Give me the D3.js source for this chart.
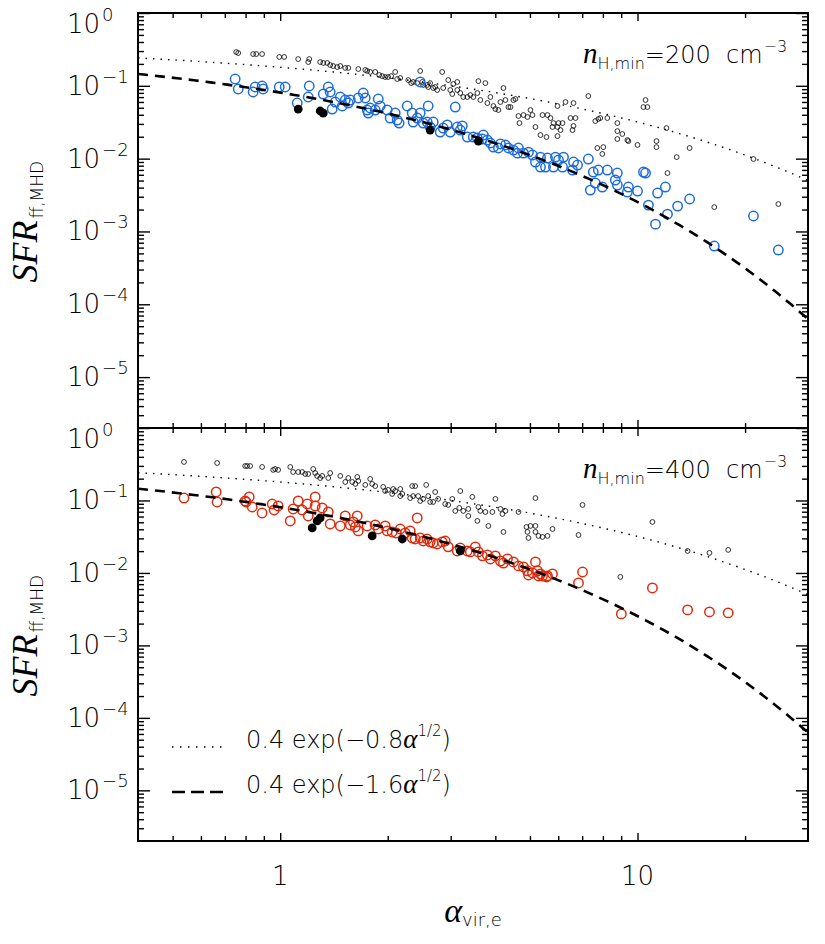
<!DOCTYPE html>
<html>
<head>
<meta charset="utf-8">
<script src="https://cdn.jsdelivr.net/npm/d3@7"></script>
<style>
  body { margin: 0; background: #fff; }
  text { font-family: "DejaVu Sans", sans-serif; font-weight: 200; fill: #000; }
  .it { font-family: "Liberation Serif", serif; font-style: italic; font-weight: normal; }
</style>
</head>
<body>
<svg id="chart" width="825" height="944"></svg>
<script>
// values: [alpha_vir,e , SFR_ff,MHD]
// n_H,min = 200 cm^-3 panel
const clumps200 = [
  [0.753,0.291],[0.763,0.282],[0.840,0.273],[0.857,0.273],[0.890,0.273],[0.994,0.249],[1.026,0.249],
  [1.123,0.233],[1.206,0.233],[1.198,0.212],[1.294,0.212],[1.320,0.206],[1.354,0.206],[1.380,0.193],
  [1.407,0.187],[1.444,0.181],[1.473,0.187],[1.521,0.176],[1.551,0.176],[1.654,0.170],[1.730,0.165],
  [1.752,0.160],[1.786,0.155],[1.845,0.155],[1.893,0.141],[1.930,0.136],[1.967,0.132],[2.005,0.132],
  [2.044,0.136],[2.098,0.155],[2.125,0.124],[2.168,0.128],[2.282,0.120],[2.326,0.109],[2.356,0.113],
  [2.418,0.109],[2.465,0.160],[2.497,0.113],[2.513,0.1026],[2.578,0.1026],[2.595,0.0963],[2.628,0.109],
  [2.680,0.0933],[2.715,0.0963],[2.750,0.0876],[2.840,0.155],[2.859,0.0933],[2.953,0.120],[2.992,0.0876],
  [3.031,0.0771],[3.050,0.106],[3.130,0.113],[3.130,0.0876],[3.192,0.0796],[3.254,0.0702],[3.339,0.0702],
  [3.405,0.0747],[3.471,0.0702],[3.563,0.0796],[3.586,0.116],[3.632,0.0638],[3.752,0.109],[3.800,0.0580],
  [3.875,0.0702],[3.951,0.0528],[4.002,0.0480],[4.081,0.0465],[4.134,0.0599],[4.215,0.0933],[4.270,0.0638],
  [4.353,0.0511],[4.410,0.0511],[4.496,0.0638],[4.554,0.0659],[4.643,0.0385],[4.673,0.0308],[4.796,0.0397],
  [4.921,0.0373],[5.017,0.0465],[5.082,0.0397],[5.181,0.0272],[5.351,0.0211],[5.421,0.0397],[5.562,0.0198],
  [5.598,0.0397],[5.708,0.0361],[5.782,0.0272],[5.819,0.0308],[5.971,0.0272],[6.010,0.0308],[6.167,0.0308],
  [5.971,0.0204],[6.088,0.0247],[6.287,0.0599],[6.621,0.0580],[5.971,0.0528],[6.494,0.0361],[6.706,0.0361],
  [6.621,0.0281],[6.578,0.0247],[7.284,0.0724],[7.619,0.0328],[7.768,0.0350],[7.868,0.0361],[8.232,0.0361],
  [7.718,0.0140],[8.022,0.0144],[7.971,0.0116],[8.781,0.0308],[8.781,0.0239],[8.781,0.0186],[9.068,0.0218],
  [9.367,0.0180],[9.428,0.0174],[10.0,0.0154],[10.53,0.0638],[10.39,0.0511],[10.66,0.0511],[11.30,0.0174],
  [11.30,0.0144],[12.05,0.0263],[12.13,0.00634],[12.87,0.0105],[13.99,0.0140],[16.40,0.00216],
  [21.11,0.00988],[24.78,0.00238]
];
const open200 = [
  [0.748,0.124],[0.763,0.0904],[0.840,0.0822],[0.851,0.0963],[0.890,0.0994],[0.896,0.0904],[0.994,0.0963],
  [1.033,0.0963],[1.206,0.0994],[1.198,0.0702],[1.116,0.0580],[1.320,0.0771],[1.363,0.0963],[1.380,0.0822],
  [1.398,0.0480],[1.426,0.0599],[1.473,0.0702],[1.492,0.0528],[1.521,0.0638],[1.551,0.0580],[1.571,0.0638],
  [1.654,0.0680],[1.708,0.0796],[1.730,0.0680],[1.752,0.0465],[1.764,0.0423],[1.786,0.0496],[1.845,0.0465],
  [1.881,0.0659],[1.905,0.0528],[1.993,0.0465],[2.031,0.0361],[2.098,0.0423],[2.125,0.0339],[2.152,0.0308],
  [2.267,0.0528],[2.341,0.0423],[2.356,0.0318],[2.418,0.0361],[2.465,0.0423],[2.465,0.113],[2.513,0.0308],
  [2.578,0.0318],[2.595,0.0528],[2.628,0.0272],[2.680,0.0318],[2.804,0.0232],[2.859,0.0263],[2.934,0.0290],
  [2.992,0.0232],[3.090,0.0511],[3.130,0.0272],[3.192,0.0247],[3.233,0.0281],[3.339,0.0198],[3.471,0.0198],
  [3.563,0.0192],[3.680,0.0186],[3.703,0.0211],[3.800,0.0180],[3.875,0.0164],[3.951,0.0144],[4.081,0.0140],
  [4.134,0.0159],[4.270,0.0154],[4.353,0.0140],[4.496,0.0131],[4.614,0.0119],[4.643,0.0140],[4.796,0.0119],
  [4.953,0.0123],[5.082,0.0112],[5.181,0.00898],[5.351,0.00767],[5.526,0.00767],[5.598,0.0102],[5.351,0.0105],
  [5.895,0.0105],[6.010,0.00957],[6.207,0.0105],[5.819,0.00767],[6.167,0.00767],[6.621,0.00898],[6.578,0.00697],
  [6.794,0.00817],[7.284,0.00988],[7.522,0.00654],[7.768,0.00697],[8.232,0.00697],[7.619,0.00462],[7.378,0.00370],
  [7.971,0.00407],[8.781,0.00634],[8.668,0.00508],[8.781,0.00434],[9.428,0.00407],[9.367,0.00348],[10.0,0.00359],
  [10.39,0.00654],[10.53,0.00634],[11.38,0.00337],[11.97,0.00407],[10.73,0.00230],[11.23,0.00126],[12.13,0.00173],
  [12.95,0.00223],[13.99,0.00279],[16.40,0.000630],[21.11,0.00163],[24.78,0.000556]
];
const filled200 = [[1.123,0.0480],[1.294,0.0451],[1.320,0.0423],[2.628,0.0247],[3.586,0.0174]];

// n_H,min = 400 cm^-3 panel
const clumps400 = [
  [0.538,0.340],[0.666,0.329],[0.798,0.299],[0.808,0.299],[0.824,0.299],[0.890,0.290],[0.956,0.264],
  [0.968,0.272],[0.987,0.264],[1.067,0.290],[1.087,0.247],[1.123,0.247],[1.152,0.247],[1.175,0.232],
  [1.198,0.232],[1.237,0.272],[1.253,0.239],[1.269,0.218],[1.294,0.204],[1.311,0.218],[1.363,0.204],
  [1.380,0.239],[1.473,0.218],[1.521,0.180],[1.551,0.204],[1.591,0.180],[1.623,0.169],[1.643,0.211],
  [1.654,0.186],[1.730,0.164],[1.786,0.198],[1.809,0.169],[1.845,0.158],[1.942,0.154],[1.967,0.135],
  [2.005,0.140],[2.071,0.144],[2.098,0.135],[2.058,0.123],[2.168,0.144],[2.196,0.123],[2.168,0.115],
  [2.341,0.158],[2.387,0.158],[2.311,0.108],[2.356,0.115],[2.433,0.115],[2.465,0.0984],[2.513,0.105],
  [2.562,0.164],[2.595,0.115],[2.628,0.0953],[2.680,0.0953],[2.715,0.131],[2.768,0.105],[2.896,0.0894],
  [2.953,0.0867],[3.031,0.105],[3.090,0.0717],[3.171,0.0788],[3.192,0.135],[3.254,0.0717],[3.361,0.0764],
  [3.361,0.0611],[3.449,0.112],[3.563,0.0522],[3.586,0.0813],[3.632,0.0717],[3.752,0.0694],[3.825,0.0445],
  [3.925,0.0694],[4.002,0.105],[4.134,0.0764],[4.188,0.0651],[4.215,0.0368],[4.270,0.0717],[4.643,0.0694],
  [4.889,0.0431],[4.921,0.0368],[5.017,0.0445],[4.953,0.0304],[5.181,0.0445],[5.181,0.108],[5.181,0.0368],
  [5.283,0.0324],[5.421,0.0314],[5.598,0.0324],[5.782,0.0404],[6.837,0.0334],[7.017,0.0867],[8.952,0.00881],
  [11.01,0.0505],[13.81,0.0201],[15.90,0.0189],[17.94,0.0208]
];
const open400 = [
  [0.538,0.108],[0.662,0.131],[0.666,0.0953],[0.798,0.0984],[0.819,0.112],[0.803,0.0953],[0.835,0.0813],
  [0.890,0.0672],[0.950,0.0894],[0.962,0.0740],[0.987,0.0840],[1.067,0.0522],[1.087,0.0764],[1.123,0.0984],
  [1.152,0.0740],[1.190,0.0894],[1.198,0.0611],[1.253,0.112],[1.253,0.0840],[1.311,0.0788],[1.363,0.0694],
  [1.380,0.0474],[1.473,0.0445],[1.521,0.0611],[1.571,0.0459],[1.602,0.0505],[1.643,0.0611],[1.623,0.0431],
  [1.654,0.0380],[1.752,0.0445],[1.845,0.0459],[1.881,0.0404],[1.967,0.0445],[1.993,0.0380],[2.058,0.0368],
  [2.111,0.0356],[2.168,0.0404],[2.238,0.0356],[2.311,0.0380],[2.341,0.0304],[2.418,0.0574],[2.387,0.0294],
  [2.465,0.0304],[2.513,0.0276],[2.578,0.0294],[2.628,0.0268],[2.680,0.0259],[2.750,0.0251],[2.840,0.0268],
  [2.896,0.0276],[2.953,0.0229],[3.130,0.0201],[3.192,0.0221],[3.339,0.0201],[3.405,0.0195],[3.517,0.0229],
  [3.586,0.0195],[3.680,0.0172],[3.800,0.0177],[3.875,0.0156],[4.002,0.0172],[4.134,0.0146],[4.215,0.0137],
  [4.325,0.0156],[4.496,0.0142],[4.643,0.0125],[4.796,0.0121],[4.921,0.0107],[4.953,0.00938],[5.082,0.0100],
  [5.181,0.0142],[5.249,0.0107],[5.283,0.00909],[5.421,0.00909],[5.562,0.00881],[5.351,0.00969],[5.598,0.00909],
  [5.782,0.00969],[6.837,0.00728],[7.017,0.0103],[9.010,0.00272],[11.01,0.00621],[13.81,0.00309],
  [15.90,0.00290],[17.94,0.00281]
];
const filled400 = [[1.229,0.0418],[1.269,0.0522],[1.294,0.0574],[1.809,0.0324],[2.196,0.0294],[3.192,0.0201]];

// axis tick values / labels
const xMajor = [1, 10];
const xMajorLabels = ["1", "10"];
const xMinor = [0.5, 0.6, 0.7, 0.8, 0.9, 2, 3, 4, 5, 6, 7, 8, 9, 20];
const yMajor = [1, 1e-1, 1e-2, 1e-3, 1e-4, 1e-5];
const yExpLabels = ["0", "\u22121", "\u22122", "\u22123", "\u22124", "\u22125"];

// model curves 0.4 exp(-c alpha^1/2)
const fitAmp = 0.4;
const fitCoef = [0.8, 1.6];
const fitCoefLabels = ["\u22120.8", "\u22121.6"];
const fitDash = ["1.5,6", "10,7"];
const fitWidth = [1.4, 2.6];

const densities = ["200", "400"];

const svg = d3.select("#chart");
const left = 138, right = 808;
const x = d3.scaleLog().domain([0.4, 30]).range([left, right]);
const alphaGrid = d3.range(0, 121).map(i => 0.4 * Math.pow(30 / 0.4, i / 120));

const yMinor = [];
for (let e = -6; e < 0; e++) {
  for (let m = 2; m <= 9; m++) {
    const v = m * Math.pow(10, e);
    if (v > 2.01e-6 && v < 1) yMinor.push(v);
  }
}

function ticks(g, axis, vals, len) {
  g.call(axis.tickValues(vals).tickSize(-len).tickFormat(""))
    .call(s => s.select(".domain").remove())
    .selectAll("line").attr("stroke", "#000").attr("stroke-width", 1.4);
}

const panels = [
  { top: 13, bottom: 428, clumps: clumps200, open: open200, filled: filled200, color: "#1c6be0" },
  { top: 428, bottom: 841, clumps: clumps400, open: open400, filled: filled400, color: "#e02a0c" }
];

panels.forEach((p, i) => {
  const y = d3.scaleLog().domain([2e-6, 1]).range([p.bottom, p.top]);
  const g = svg.append("g");

  g.append("clipPath").attr("id", "clip" + i)
    .append("rect").attr("x", left).attr("y", p.top).attr("width", right - left).attr("height", p.bottom - p.top);
  const plot = g.append("g").attr("clip-path", "url(#clip" + i + ")");

  plot.append("g").selectAll("circle").data(p.clumps).join("circle")
    .attr("cx", d => x(d[0])).attr("cy", d => y(d[1])).attr("r", 2.4)
    .attr("fill", "none").attr("stroke", "#000").attr("stroke-width", 0.8);

  plot.append("g").selectAll("circle").data(p.open).join("circle")
    .attr("cx", d => x(d[0])).attr("cy", d => y(d[1])).attr("r", 4.7)
    .attr("fill", "none").attr("stroke", p.color).attr("stroke-width", 1.5);

  fitCoef.forEach((c, k) => {
    const line = d3.line().x(a => x(a)).y(a => y(fitAmp * Math.exp(-c * Math.sqrt(a))));
    plot.append("path").attr("d", line(alphaGrid)).attr("fill", "none")
      .attr("stroke", "#000").attr("stroke-width", fitWidth[k]).attr("stroke-dasharray", fitDash[k]);
  });

  plot.append("g").selectAll("circle").data(p.filled).join("circle")
    .attr("cx", d => x(d[0])).attr("cy", d => y(d[1])).attr("r", 4.4).attr("fill", "#000");

  // inward ticks on all four sides
  ticks(g.append("g").attr("transform", `translate(0,${p.bottom})`), d3.axisBottom(x), xMajor, 8);
  ticks(g.append("g").attr("transform", `translate(0,${p.bottom})`), d3.axisBottom(x), xMinor, 5);
  ticks(g.append("g").attr("transform", `translate(0,${p.top})`), d3.axisTop(x), xMajor, 8);
  ticks(g.append("g").attr("transform", `translate(0,${p.top})`), d3.axisTop(x), xMinor, 5);
  ticks(g.append("g").attr("transform", `translate(${left},0)`), d3.axisLeft(y), yMajor, 12);
  ticks(g.append("g").attr("transform", `translate(${left},0)`), d3.axisLeft(y), yMinor, 6);
  ticks(g.append("g").attr("transform", `translate(${right},0)`), d3.axisRight(y), yMajor, 12);
  ticks(g.append("g").attr("transform", `translate(${right},0)`), d3.axisRight(y), yMinor, 6);

  g.append("rect").attr("x", left).attr("y", p.top).attr("width", right - left).attr("height", p.bottom - p.top)
    .attr("fill", "none").attr("stroke", "#000").attr("stroke-width", 2);

  // y tick labels 10^n
  yMajor.forEach((v, k) => {
    const t = g.append("text").attr("x", 67).attr("y", y(v) + (v === 1 ? 20 : 9)).attr("font-size", 26);
    t.append("tspan").text("10");
    t.append("tspan").attr("dx", 2).attr("dy", -12).attr("font-size", 18).text(yExpLabels[k]);
  });

  // y title
  const yt = g.append("text")
    .attr("transform", `translate(37,${(p.top + p.bottom) / 2 + 62}) rotate(-90)`);
  yt.append("tspan").attr("class", "it").attr("font-size", 36).text("SFR");
  yt.append("tspan").attr("font-size", 17).attr("dy", 6).attr("dx", 2).text("ff,MHD");

  // density annotation
  const ann = g.append("text").attr("x", 583).attr("y", p.top + 50);
  ann.append("tspan").attr("class", "it").attr("font-size", 29).text("n");
  ann.append("tspan").attr("font-size", 16).attr("dy", 6).text("H,min");
  ann.append("tspan").attr("font-size", 24).attr("dy", -6).text("=" + densities[i] + "\u00a0\u00a0cm");
  ann.append("tspan").attr("font-size", 16).attr("dy", -11).attr("dx", 1).text("\u22123");
});

// x tick labels and title (bottom panel)
xMajor.forEach((v, k) => {
  svg.append("text").attr("x", x(v)).attr("y", 885).attr("text-anchor", "middle")
    .attr("font-size", 26).text(xMajorLabels[k]);
});
const xt = svg.append("text").attr("x", 473).attr("y", 922).attr("text-anchor", "middle");
xt.append("tspan").attr("class", "it").attr("font-size", 34).text("\u03b1");
xt.append("tspan").attr("font-size", 18).attr("dy", 4).text("vir,e");

// legend
const legendY = [747, 792];
fitCoef.forEach((c, k) => {
  svg.append("line").attr("x1", 172).attr("x2", 226).attr("y1", legendY[k]).attr("y2", legendY[k])
    .attr("stroke", "#000").attr("stroke-width", fitWidth[k])
    .attr("stroke-dasharray", k === 0 ? "1.5,6.5" : "13,6");
  const t = svg.append("text").attr("x", 246).attr("y", legendY[k] + 1).attr("font-size", 24);
  t.append("tspan").text(fitAmp + " exp(" + fitCoefLabels[k]);
  t.append("tspan").attr("class", "it").attr("font-size", 27).text("\u03b1");
  t.append("tspan").attr("font-size", 15).attr("dy", -12).text("1/2");
  t.append("tspan").attr("dy", 12).text(")");
});
</script>
</body>
</html>
